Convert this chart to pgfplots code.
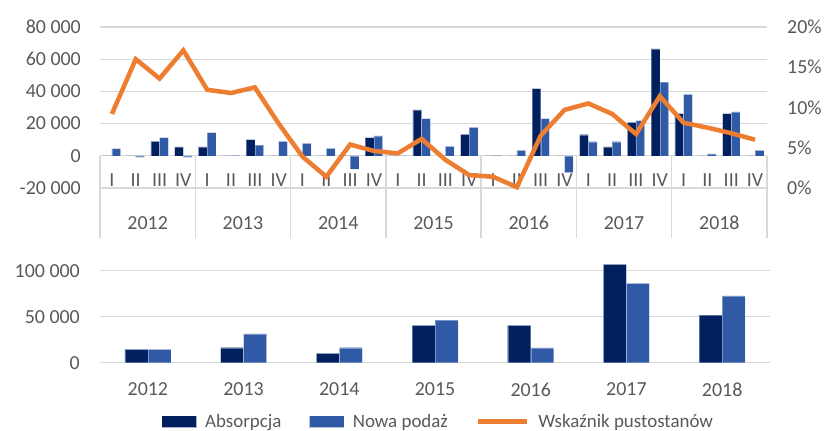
\documentclass[border=0pt]{standalone}
\usepackage{pgfplots}
\pgfplotsset{compat=1.18}
\usepackage{fontspec}
\setmainfont{Carlito}
\definecolor{navy}{RGB}{0,32,96}
\definecolor{blu}{RGB}{49,90,166}
\definecolor{orng}{RGB}{237,125,49}
\definecolor{grd}{RGB}{217,217,217}
\definecolor{txt}{RGB}{89,89,89}
\begin{document}
\begin{tikzpicture}
\useasboundingbox (0,0) rectangle (824bp,431bp);
\pgfplotsset{
  common/.style={scale only axis, axis line style={draw=none},
    tick style={draw=none}, major tick length=0pt, minor tick length=0pt,
    scaled y ticks=false, scaled x ticks=false,
    ticklabel style={font=\fontsize{20}{24}\selectfont, text=txt},
    clip=false},
  barsty/.style={fill=#1, draw=white, draw opacity=0.35, line width=0.4bp},
}
% ---------- top chart: quarterly bars ----------
\begin{axis}[common,
  at={(100bp,243bp)}, anchor=south west, width=667bp, height=161bp,
  xmin=-0.5, xmax=27.5, ymin=-20000, ymax=80000,
  ytick={-20000,0,20000,40000,60000,80000},
  yticklabels={-20 000,0,20 000,40 000,60 000,80 000},
  yticklabel style={anchor=east, inner sep=0pt, xshift=-19bp},
  ymajorgrids, grid style={grd, line width=1.3bp},
  xtick={0,...,27},
  xticklabels={I,II,III,IV,I,II,III,IV,I,II,III,IV,I,II,III,IV,I,II,III,IV,I,II,III,IV,I,II,III,IV},
  xticklabel style={anchor=south, inner sep=0pt, yshift=1.5bp},
  ybar=0pt, bar width=8.7bp]
\addplot[barsty=navy] coordinates {
(0,0) (1,0) (2,9000) (3,5600) (4,5600) (5,0) (6,10000) (7,0)
(8,0) (9,0) (10,0) (11,11300) (12,0) (13,28500) (14,0) (15,13300)
(16,0) (17,0) (18,41700) (19,0) (20,13100) (21,5600) (22,20800) (23,66400)
(24,26250) (25,0) (26,26250) (27,0)};
\addplot[barsty=blu] coordinates {
(0,4500) (1,-1000) (2,11300) (3,-1000) (4,14400) (5,300) (6,6700) (7,9000)
(8,7700) (9,4600) (10,-8300) (11,12300) (12,0) (13,23100) (14,5800) (15,17700)
(16,300) (17,3300) (18,23100) (19,-10400) (20,8750) (21,8750) (22,21900) (23,45800)
(24,38100) (25,1250) (26,27300) (27,3300)};
\foreach \s in {-0.5,3.5,7.5,11.5,15.5,19.5,23.5,27.5}{
  \edef\tmp{\noexpand\draw[grd, line width=1.3bp] (axis cs:\s,0) -- ([yshift=-82bp]axis cs:\s,0);}
  \tmp
}
\foreach \c/\y in {1.5/2012,5.5/2013,9.5/2014,13.5/2015,17.5/2016,21.5/2017,25.5/2018}{
  \edef\tmp{\noexpand\node[anchor=base, inner sep=0pt, font=\noexpand\fontsize{20}{24}\noexpand\selectfont, text=txt] at ([yshift=-42bp]axis cs:\c,-20000) {\y};}
  \tmp
}
\end{axis}
% ---------- top chart: vacancy rate ----------
\begin{axis}[common,
  at={(100bp,243bp)}, anchor=south west, width=667bp, height=161bp,
  xmin=-0.5, xmax=27.5, ymin=0, ymax=20,
  axis x line=none, axis y line*=right,
  ytick={0,5,10,15,20},
  yticklabels={0\%,5\%,10\%,15\%,20\%},
  yticklabel style={anchor=west, inner sep=0pt, xshift=20bp}]
\addplot[orng, line width=4.5bp, line join=miter] coordinates {
(0,9.2) (1,16.0) (2,13.6) (3,17.1) (4,12.2) (5,11.8) (6,12.5) (7,8.0)
(8,3.9) (9,1.4) (10,5.4) (11,4.6) (12,4.3) (13,6.1) (14,3.5) (15,1.6)
(16,1.4) (17,0.1) (18,6.5) (19,9.7) (20,10.5) (21,9.2) (22,6.7) (23,11.4)
(24,8.1) (25,7.5) (26,6.8) (27,6.0)};
\end{axis}
% ---------- bottom chart: yearly ----------
\begin{axis}[common,
  at={(100bp,68.3bp)}, anchor=south west, width=670bp, height=110.4bp,
  xmin=-0.5, xmax=6.5, ymin=0, ymax=120000,
  ytick={0,50000,100000},
  yticklabels={0,50 000,100 000},
  yticklabel style={anchor=east, inner sep=0pt, xshift=-20bp},
  ymajorgrids, grid style={grd, line width=1.3bp},
  xtick={0,...,6},
  xticklabels={2012,2013,2014,2015,2016,2017,2018},
  xticklabel style={anchor=north, inner sep=0pt, yshift=-20bp},
  ybar=0pt, bar width=23bp,
  legend columns=3,
  legend style={at={(0.505,-0.534)}, anchor=center, draw=none, fill=none,
    font=\fontsize{19}{23}\selectfont, text=txt,
    /tikz/every odd column/.append style={column sep=7bp},
    /tikz/every even column/.append style={column sep=26bp}},
  legend cell align=left]
\addplot[barsty=navy,
  legend image code/.code={\fill[navy] (0bp,-5.8bp) rectangle (34bp,5.8bp);}] coordinates {
(0,14500) (1,16300) (2,10100) (3,40600) (4,40600) (5,106900) (6,51800)};
\addlegendentry{Absorpcja}
\addplot[barsty=blu,
  legend image code/.code={\fill[blu] (0bp,-5.8bp) rectangle (34bp,5.8bp);}] coordinates {
(0,14500) (1,31200) (2,16300) (3,46400) (4,16000) (5,86200) (6,72500)};
\addlegendentry{Nowa podaż}
\addlegendimage{legend image code/.code={\draw[orng, line width=4.5bp] (0bp,0bp) -- (49bp,0bp);}}
\addlegendentry{Wskaźnik pustostanów}
\end{axis}
\end{tikzpicture}
\end{document}
